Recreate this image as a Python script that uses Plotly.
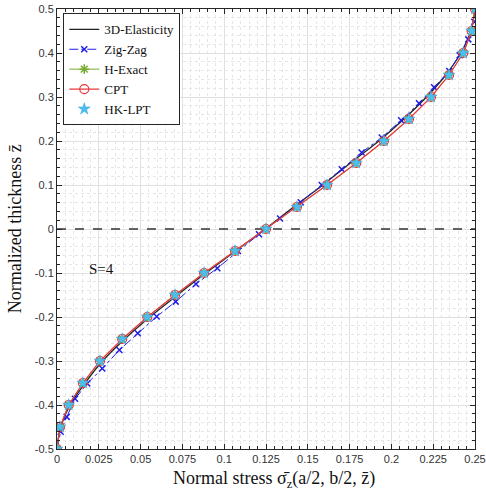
import plotly.graph_objects as go

# Data
z_grid = [-0.5, -0.45, -0.4, -0.35, -0.3, -0.25, -0.2, -0.15, -0.1, -0.05, 0.0,
          0.05, 0.1, 0.15, 0.2, 0.25, 0.3, 0.35, 0.4, 0.45, 0.5]

elasticity_3d = [0.0, 0.0022, 0.0078, 0.0168, 0.0272, 0.0405, 0.0555, 0.072, 0.089, 0.1068, 0.1245,
                 0.1415, 0.159, 0.1755, 0.1925, 0.2075, 0.221, 0.2325, 0.2415, 0.2475, 0.25]

cpt = [0.0, 0.0018, 0.007, 0.0155, 0.0257, 0.039, 0.054, 0.0706, 0.088, 0.1065, 0.125,
       0.1435, 0.1615, 0.179, 0.1955, 0.2105, 0.2237, 0.2345, 0.243, 0.248, 0.25]

h_exact = cpt[:]
hk_lpt = cpt[:]

zz_z = [-0.5, -0.461, -0.427, -0.386, -0.351, -0.317, -0.275, -0.237, -0.199, -0.165,
        -0.125, -0.089, -0.05, -0.012, 0.024, 0.061, 0.1, 0.136, 0.174, 0.208,
        0.247, 0.286, 0.322, 0.359, 0.395, 0.431, 0.471, 0.5]
zig_zag = [0.0, 0.0022, 0.0058, 0.0108, 0.0181, 0.0271, 0.0373, 0.0483, 0.0596, 0.071,
           0.0831, 0.0959, 0.1082, 0.1208, 0.1334, 0.1458, 0.1583, 0.1703, 0.1822, 0.1942,
           0.2058, 0.2165, 0.2255, 0.2346, 0.2408, 0.246, 0.2496, 0.25]

x_ticks = [0, 0.025, 0.05, 0.075, 0.1, 0.125, 0.15, 0.175, 0.2, 0.225, 0.25]
x_ticktext = ["0", "0.025", "0.05", "0.075", "0.1", "0.125", "0.15", "0.175", "0.2", "0.225", "0.25"]
y_ticks = [-0.5, -0.4, -0.3, -0.2, -0.1, 0, 0.1, 0.2, 0.3, 0.4, 0.5]
y_ticktext = ["-0.5", "-0.4", "-0.3", "-0.2", "-0.1", "0", "0.1", "0.2", "0.3", "0.4", "0.5"]

fig = go.Figure()

# zero dashed line
fig.add_trace(go.Scatter(x=[0, 0.25], y=[0, 0], mode="lines",
                         line=dict(color="#333333", width=1.3, dash="dash"),
                         showlegend=False, hoverinfo="skip"))

fig.add_trace(go.Scatter(x=elasticity_3d, y=z_grid, mode="lines", name="3D-Elasticity",
                         line=dict(color="#222222", width=1.3, shape="spline")))
fig.add_trace(go.Scatter(x=zig_zag, y=zz_z, mode="lines+markers", name="Zig-Zag",
                         line=dict(color="#1f1fe6", width=1, dash="dashdot"),
                         marker=dict(symbol="x-thin-open", size=6,
                                     line=dict(color="#1f1fe6", width=1.5))))
fig.add_trace(go.Scatter(x=h_exact, y=z_grid, mode="lines+markers", name="H-Exact",
                         line=dict(color="#77AC30", width=1),
                         marker=dict(symbol="asterisk-open", size=8,
                                     line=dict(color="#77AC30", width=1.5))))
fig.add_trace(go.Scatter(x=cpt, y=z_grid, mode="lines+markers", name="CPT",
                         line=dict(color="#e8383d", width=1.2),
                         marker=dict(symbol="circle-open", size=9,
                                     line=dict(color="#e8383d", width=1.2))))
fig.add_trace(go.Scatter(x=hk_lpt, y=z_grid, mode="markers", name="HK-LPT",
                         marker=dict(symbol="star", size=9, color="#4DBEEE",
                                     line=dict(color="#3aa6d6", width=0.5))))

fig.add_annotation(x=0.018, y=-0.09, text="S=4", showarrow=False, xanchor="left",
                   font=dict(family="Liberation Serif", size=15, color="#111111"))

# axis titles as annotations for precise placement
fig.add_annotation(xref="paper", yref="paper", x=0.52, y=-0.07, yanchor="middle",
                   text="Normal stress σ̄<sub>z</sub>(a/2, b/2, z̄)", showarrow=False,
                   font=dict(family="Liberation Serif", size=18, color="#111111"))
fig.add_annotation(xref="paper", yref="paper", x=-0.1, y=0.5, xanchor="center",
                   text="Normalized thickness z̄", showarrow=False, textangle=-90,
                   font=dict(family="Liberation Serif", size=18, color="#111111"))

axis_common = dict(
    showline=True, linecolor="#262626", linewidth=1, mirror="allticks",
    ticks="inside", ticklen=5, tickcolor="#262626",
    showgrid=True, gridcolor="#e0e0e0", gridwidth=1,
    zeroline=False, automargin=False,
    tickfont=dict(family="Liberation Sans", size=11, color="#333333"),
)

fig.update_xaxes(range=[0, 0.25], tickvals=x_ticks, ticktext=x_ticktext,
                 minor=dict(dtick=0.005, tick0=0, ticks="inside", ticklen=3, tickcolor="#262626",
                            showgrid=True, gridcolor="#e6e6e6", griddash="dot", gridwidth=1),
                 **axis_common)
fig.update_yaxes(range=[-0.5, 0.5], tickvals=y_ticks, ticktext=y_ticktext,
                 minor=dict(dtick=0.02, tick0=0, ticks="inside", ticklen=3, tickcolor="#262626",
                            showgrid=True, gridcolor="#e6e6e6", griddash="dot", gridwidth=1),
                 **axis_common)

fig.update_layout(
    width=486, height=497,
    margin=dict(l=57, r=11, t=9, b=48),
    plot_bgcolor="white", paper_bgcolor="white",
    legend=dict(x=0.015, y=0.99, xanchor="left", yanchor="top",
                bgcolor="white", bordercolor="#262626", borderwidth=1,
                font=dict(family="Liberation Serif", size=13, color="#111111"),
                itemwidth=30, tracegroupgap=0),
    showlegend=True,
)

fig.write_html("out.html")
